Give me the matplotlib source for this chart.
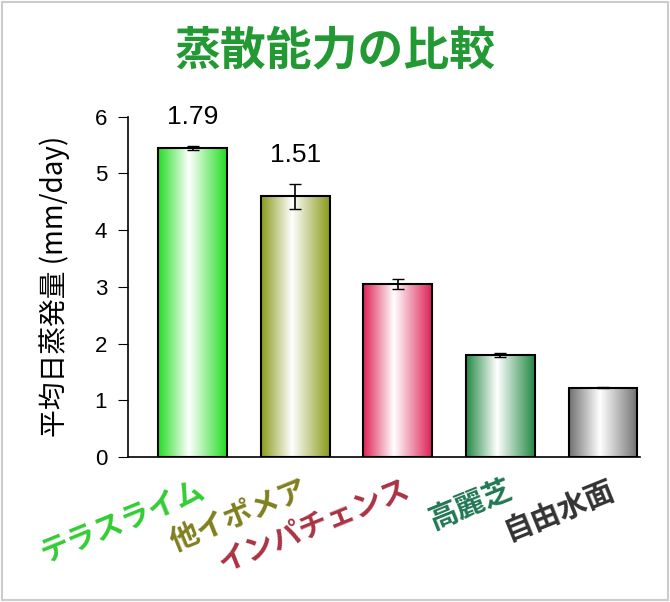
import matplotlib
matplotlib.use("Agg")
import matplotlib.pyplot as plt
import numpy as np
from matplotlib.colors import LinearSegmentedColormap
from matplotlib.patches import Rectangle

plt.rcParams['font.family'] = ['Noto Sans CJK JP', 'DejaVu Sans']

categories = ["テラスライム", "他イポメア", "インパチェンス", "高麗芝", "自由水面"]
values = [5.45, 4.60, 3.05, 1.80, 1.22]
errors = [0.03, 0.22, 0.08, 0.04, 0.01]
ratios = ["1.79", "1.51", None, None, None]
bar_colors = ["#22dd22", "#8a9a1a", "#dd2255", "#228844", "#707070"]
label_colors = ["#33cc33", "#808020", "#aa3344", "#227755", "#333333"]

fig = plt.figure(figsize=(6.7, 6.02), dpi=100)
ax = fig.add_axes([0.191, 0.241, 0.764, 0.565])
w = 0.67
for i, (v, e, c) in enumerate(zip(values, errors, bar_colors)):
    cmap = LinearSegmentedColormap.from_list("g", [(0, c), (0.45, "white"), (1, c)])
    grad = np.linspace(0, 1, 256).reshape(1, -1)
    ax.imshow(grad, cmap=cmap, extent=[i - w/2, i + w/2, 0, v], aspect='auto', zorder=2)
    ax.add_patch(Rectangle((i - w/2, 0), w, v, fill=False, edgecolor='black', lw=1.5, zorder=3))
    ax.errorbar(i, v, yerr=e, color='black', capsize=4, lw=1.2, zorder=4)
    if ratios[i]:
        ax.text(i, v + e + 0.3, ratios[i], ha='center', va='bottom', fontsize=19,
                family='Liberation Sans', clip_on=False)
    ax.text(i + 0.05, -0.3, categories[i], rotation=22, ha='right', va='top',
            rotation_mode='anchor', fontsize=21, fontweight='bold', color=label_colors[i])

ax.set_xlim(-0.63, 4.36)
ax.set_ylim(0, 6)
for s in ['top', 'right']:
    ax.spines[s].set_visible(False)
ax.spines['left'].set_linewidth(1.2)
ax.spines['bottom'].set_linewidth(1.2)
ax.set_xticks([])
ax.set_yticks(range(7))
ax.set_yticklabels([str(t) for t in range(7)], family='Liberation Sans')
ax.tick_params(axis='y', labelsize=16, direction='out', length=7, pad=8)
ax.set_ylabel("平均日蒸発量 (mm/day)", fontsize=20, labelpad=18)

fig.text(0.5, 0.915, "蒸散能力の比較", ha='center', va='center', fontsize=33,
         fontweight='bold', color='#229933')
fig.add_artist(Rectangle((0.003, 0.003), 0.994, 0.994, transform=fig.transFigure,
                         fill=False, edgecolor='#cccccc', lw=1.5))
fig.savefig("out.png", dpi=100)
